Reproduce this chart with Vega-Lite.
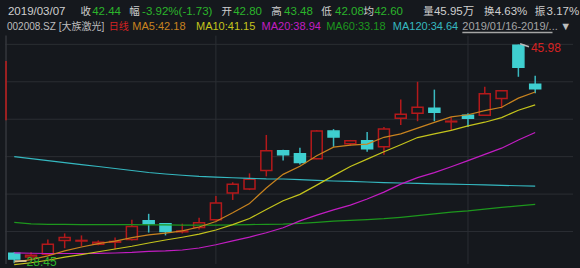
{
  "$schema": "https://vega.github.io/schema/vega-lite/v6.json",
  "width": 580,
  "height": 268,
  "padding": 0,
  "autosize": {"type": "fit", "contains": "padding"},
  "background": "#15181d",
  "config": {"view": {"stroke": null}, "font": "Liberation Sans, Noto Sans CJK SC"},
  "datasets": {
    "k": [
      {"i": 0, "d": "2019-01-16", "o": 29.27, "h": 29.35, "l": 28.45, "c": 28.79, "ma5": 28.55, "ma10": 28.35, "ma20": 29.29, "ma60": 31.74, "ma120": 37.00},
      {"i": 1, "d": "2019-01-17", "o": 28.95, "h": 29.35, "l": 28.70, "c": 29.10, "ma5": 28.75, "ma10": 28.50, "ma20": 29.26, "ma60": 31.62, "ma120": 36.84},
      {"i": 2, "d": "2019-01-18", "o": 29.19, "h": 30.37, "l": 29.11, "c": 29.98, "ma5": 29.05, "ma10": 28.70, "ma20": 29.24, "ma60": 31.58, "ma120": 36.68},
      {"i": 3, "d": "2019-01-21", "o": 30.29, "h": 30.85, "l": 29.66, "c": 30.53, "ma5": 29.45, "ma10": 28.95, "ma20": 29.24, "ma60": 31.57, "ma120": 36.52},
      {"i": 4, "d": "2019-01-22", "o": 30.24, "h": 30.69, "l": 29.82, "c": 30.29, "ma5": 29.76, "ma10": 29.15, "ma20": 29.24, "ma60": 31.56, "ma120": 36.36},
      {"i": 5, "d": "2019-01-23", "o": 29.98, "h": 30.29, "l": 29.90, "c": 30.14, "ma5": 30.03, "ma10": 29.38, "ma20": 29.25, "ma60": 31.56, "ma120": 36.21},
      {"i": 6, "d": "2019-01-24", "o": 30.15, "h": 30.53, "l": 29.58, "c": 30.21, "ma5": 30.23, "ma10": 29.60, "ma20": 29.28, "ma60": 31.55, "ma120": 36.05},
      {"i": 7, "d": "2019-01-25", "o": 30.37, "h": 31.95, "l": 30.29, "c": 31.40, "ma5": 30.51, "ma10": 29.82, "ma20": 29.33, "ma60": 31.55, "ma120": 35.89},
      {"i": 8, "d": "2019-01-28", "o": 31.87, "h": 32.42, "l": 30.92, "c": 31.63, "ma5": 30.73, "ma10": 30.08, "ma20": 29.41, "ma60": 31.54, "ma120": 35.73},
      {"i": 9, "d": "2019-01-29", "o": 31.63, "h": 31.66, "l": 30.69, "c": 31.00, "ma5": 30.88, "ma10": 30.32, "ma20": 29.45, "ma60": 31.53, "ma120": 35.61},
      {"i": 10, "d": "2019-01-30", "o": 30.98, "h": 31.63, "l": 30.85, "c": 31.04, "ma5": 31.06, "ma10": 30.54, "ma20": 29.52, "ma60": 31.52, "ma120": 35.51},
      {"i": 11, "d": "2019-01-31", "o": 31.32, "h": 32.11, "l": 31.16, "c": 31.71, "ma5": 31.36, "ma10": 30.79, "ma20": 29.68, "ma60": 31.52, "ma120": 35.42},
      {"i": 12, "d": "2019-02-01", "o": 31.95, "h": 33.85, "l": 31.87, "c": 33.29, "ma5": 31.80, "ma10": 31.12, "ma20": 29.94, "ma60": 31.52, "ma120": 35.36},
      {"i": 13, "d": "2019-02-11", "o": 34.08, "h": 34.95, "l": 33.53, "c": 34.79, "ma5": 32.50, "ma10": 31.55, "ma20": 30.25, "ma60": 31.54, "ma120": 35.31},
      {"i": 14, "d": "2019-02-12", "o": 34.40, "h": 35.66, "l": 34.32, "c": 35.19, "ma5": 33.25, "ma10": 32.04, "ma20": 30.55, "ma60": 31.56, "ma120": 35.26},
      {"i": 15, "d": "2019-02-13", "o": 35.90, "h": 38.74, "l": 35.42, "c": 37.48, "ma5": 34.49, "ma10": 32.77, "ma20": 30.90, "ma60": 31.58, "ma120": 35.22},
      {"i": 16, "d": "2019-02-14", "o": 37.48, "h": 37.55, "l": 36.69, "c": 37.16, "ma5": 35.58, "ma10": 33.47, "ma20": 31.30, "ma60": 31.60, "ma120": 35.21},
      {"i": 17, "d": "2019-02-15", "o": 37.24, "h": 37.71, "l": 36.37, "c": 36.53, "ma5": 36.23, "ma10": 33.98, "ma20": 31.85, "ma60": 31.66, "ma120": 35.16},
      {"i": 18, "d": "2019-02-18", "o": 36.84, "h": 39.13, "l": 36.80, "c": 39.05, "ma5": 37.08, "ma10": 34.72, "ma20": 32.32, "ma60": 31.74, "ma120": 35.10},
      {"i": 19, "d": "2019-02-19", "o": 39.05, "h": 39.21, "l": 37.79, "c": 38.58, "ma5": 37.76, "ma10": 35.48, "ma20": 32.73, "ma60": 31.83, "ma120": 35.05},
      {"i": 20, "d": "2019-02-20", "o": 38.03, "h": 38.34, "l": 37.87, "c": 38.27, "ma5": 37.92, "ma10": 36.21, "ma20": 33.12, "ma60": 31.89, "ma120": 35.02},
      {"i": 21, "d": "2019-02-21", "o": 38.27, "h": 38.98, "l": 37.40, "c": 37.63, "ma5": 38.01, "ma10": 36.80, "ma20": 33.61, "ma60": 31.95, "ma120": 34.97},
      {"i": 22, "d": "2019-02-22", "o": 37.79, "h": 39.37, "l": 37.16, "c": 39.21, "ma5": 38.55, "ma10": 37.39, "ma20": 34.16, "ma60": 32.03, "ma120": 34.92},
      {"i": 23, "d": "2019-02-25", "o": 40.08, "h": 41.58, "l": 39.53, "c": 40.40, "ma5": 38.82, "ma10": 37.95, "ma20": 34.80, "ma60": 32.14, "ma120": 34.89},
      {"i": 24, "d": "2019-02-26", "o": 40.48, "h": 43.00, "l": 39.84, "c": 40.95, "ma5": 39.29, "ma10": 38.53, "ma20": 35.32, "ma60": 32.27, "ma120": 34.86},
      {"i": 25, "d": "2019-02-27", "o": 40.87, "h": 42.37, "l": 39.84, "c": 40.55, "ma5": 39.75, "ma10": 38.83, "ma20": 35.72, "ma60": 32.41, "ma120": 34.82},
      {"i": 26, "d": "2019-02-28", "o": 39.79, "h": 40.16, "l": 39.13, "c": 39.84, "ma5": 40.19, "ma10": 39.10, "ma20": 36.19, "ma60": 32.55, "ma120": 34.80},
      {"i": 27, "d": "2019-03-01", "o": 40.32, "h": 40.48, "l": 39.37, "c": 40.08, "ma5": 40.36, "ma10": 39.46, "ma20": 36.68, "ma60": 32.66, "ma120": 34.77},
      {"i": 28, "d": "2019-03-04", "o": 40.32, "h": 42.61, "l": 40.30, "c": 42.05, "ma5": 40.69, "ma10": 39.76, "ma20": 37.18, "ma60": 32.80, "ma120": 34.74},
      {"i": 29, "d": "2019-03-05", "o": 41.66, "h": 42.29, "l": 40.87, "c": 42.29, "ma5": 40.96, "ma10": 40.13, "ma20": 37.68, "ma60": 32.93, "ma120": 34.70},
      {"i": 30, "d": "2019-03-06", "o": 45.92, "h": 45.98, "l": 43.40, "c": 44.17, "ma5": 41.69, "ma10": 40.72, "ma20": 38.33, "ma60": 33.06, "ma120": 34.67},
      {"i": 31, "d": "2019-03-07", "o": 42.80, "h": 43.48, "l": 42.08, "c": 42.44, "ma5": 42.18, "ma10": 41.15, "ma20": 38.94, "ma60": 33.18, "ma120": 34.64}
    ],
    "hgrid": [{"p": 31}, {"p": 34}, {"p": 37}, {"p": 40}, {"p": 43}, {"p": 46}],
    "vgrid": [{"d": "2019-02-01", "i": 12}, {"d": "2019-03-01", "i": 27}],
    "hdr": [
      {"n": 1, "x": -0.375, "t": "2019/03/07", "k": "lbl"},
      {"n": 11, "x": 3.937, "t": "收", "k": "lbl"},
      {"n": 1, "x": 4.637, "t": "42.44", "k": "val"},
      {"n": 11, "x": 6.851, "t": "幅", "k": "lbl"},
      {"n": 1, "x": 7.609, "t": "-3.92%(-1.73)", "k": "val"},
      {"n": 11, "x": 12.329, "t": "开", "k": "lbl"},
      {"n": 1, "x": 13.028, "t": "42.80", "k": "val"},
      {"n": 11, "x": 15.301, "t": "高", "k": "lbl"},
      {"n": 1, "x": 16.058, "t": "43.48", "k": "val"},
      {"n": 11, "x": 18.273, "t": "低", "k": "lbl"},
      {"n": 1, "x": 19.089, "t": "42.08", "k": "val"},
      {"n": 11, "x": 20.78, "t": "均", "k": "lbl"},
      {"n": 1, "x": 21.42, "t": "42.60", "k": "val"},
      {"n": 11, "x": 24.334, "t": "量", "k": "lbl"},
      {"n": 1, "x": 24.975, "t": "45.95万", "k": "lbl"},
      {"n": 11, "x": 27.947, "t": "换", "k": "lbl"},
      {"n": 1, "x": 28.588, "t": "4.63%", "k": "lbl"},
      {"n": 11, "x": 30.977, "t": "振", "k": "lbl"},
      {"n": 1, "x": 31.677, "t": "3.17%", "k": "lbl"},
      {"n": 22, "x": -0.433, "t": "002008.SZ [大族激光]", "k": "gray"},
      {"n": 22, "x": 5.63, "t": "日线", "k": "red"},
      {"n": 2, "x": 7.026, "t": "MA5:42.18", "k": "ma5"},
      {"n": 2, "x": 10.814, "t": "MA10:41.15", "k": "ma10"},
      {"n": 2, "x": 14.718, "t": "MA20:38.94", "k": "ma20"},
      {"n": 2, "x": 18.564, "t": "MA60:33.18", "k": "ma60"},
      {"n": 2, "x": 22.527, "t": "MA120:34.64", "k": "ma120"},
      {"n": 2, "x": 26.665, "t": "2019/01/16-2019/...", "k": "dim"},
      {"n": 2, "x": 32.492, "t": "▼", "k": "gray"}
    ],
    "notes": [
      {"t": "45.98", "x": 30.744, "p": 45.685, "k": "red", "b": "middle"},
      {"t": "28.45", "x": 0.732, "p": 28.58, "k": "val", "b": "top"}
    ],
    "segs": [
      {"x": -0.49, "x2": -0.49, "y": 28.4, "y2": 46.7, "k": "border"},
      {"x": -0.49, "x2": -0.49, "y": 44.66, "y2": 39.92, "k": "redm"},
      {"x": 26.665, "x2": 32.03, "y": 46.948, "y2": 46.948, "k": "dim"},
      {"x": 30.10, "x2": 30.63, "y": 46.04, "y2": 45.80, "k": "ptr"},
      {"x": 0.033, "x2": 0.732, "y": 28.636, "y2": 28.636, "k": "low"}
    ]
  },
  "layer": [
    {
      "data": {"name": "hgrid"},
      "mark": {"type": "rule", "color": "#2b2e33", "strokeWidth": 1},
      "encoding": {
        "y": {"field": "p", "type": "quantitative", "scale": {"domain": [28.399, 49.552], "nice": false, "zero": false}, "axis": null},
        "x": {"datum": -0.55, "scale": {"domain": [-0.55, 33.25], "nice": false, "zero": false}, "axis": null},
        "x2": {"datum": 33.25}
      }
    },
    {
      "data": {"name": "vgrid"},
      "mark": {"type": "rule", "color": "#2b2e33", "strokeWidth": 1},
      "encoding": {
        "x": {"field": "i", "type": "quantitative", "scale": {"domain": [-0.55, 33.25], "nice": false, "zero": false}, "axis": null},
        "y": {"datum": 28.4, "scale": {"domain": [28.399, 49.552], "nice": false, "zero": false}, "axis": null},
        "y2": {"datum": 46.7}
      }
    },
    {
      "data": {"name": "k"},
      "mark": {"type": "rule", "strokeWidth": 1.5},
      "encoding": {
        "x": {"field": "i", "type": "quantitative", "scale": {"domain": [-0.55, 33.25], "nice": false, "zero": false}, "axis": null},
        "y": {"field": "l", "type": "quantitative", "scale": {"domain": [28.399, 49.552], "nice": false, "zero": false}, "axis": null},
        "y2": {"field": "h"},
        "stroke": {"condition": {"test": "datum.c >= datum.o", "value": "#b3191b"}, "value": "#3ab9c0"}
      }
    },
    {
      "data": {"name": "k"},
      "mark": {"type": "bar", "width": 11, "strokeWidth": 1.5},
      "encoding": {
        "x": {"field": "i", "type": "quantitative", "scale": {"domain": [-0.55, 33.25], "nice": false, "zero": false}, "axis": null},
        "y": {"field": "o", "type": "quantitative", "scale": {"domain": [28.399, 49.552], "nice": false, "zero": false}, "axis": null},
        "y2": {"field": "c"},
        "fill": {"condition": {"test": "datum.c >= datum.o", "value": "#15181d"}, "value": "#3fcfd0"},
        "stroke": {"condition": {"test": "datum.c >= datum.o", "value": "#b3191b"}, "value": "#3fcfd0"}
      }
    },
    {
      "data": {"name": "k"},
      "transform": [{"fold": ["ma120", "ma60", "ma20", "ma10", "ma5"], "as": ["m", "v"]}],
      "mark": {"type": "line", "strokeWidth": 1.2},
      "encoding": {
        "x": {"field": "i", "type": "quantitative", "scale": {"domain": [-0.55, 33.25], "nice": false, "zero": false}, "axis": null},
        "y": {"field": "v", "type": "quantitative", "scale": {"domain": [28.399, 49.552], "nice": false, "zero": false}, "axis": null},
        "color": {"field": "m", "type": "nominal", "legend": null,
          "scale": {
            "domain": ["ma5", "ma10", "ma20", "ma60", "ma120", "lbl", "val", "red", "gray", "dim", "border", "redm", "ptr", "low"],
            "range": ["#c8831f", "#c4c41c", "#c21dc2", "#1d971d", "#35b8c0", "#cfcfcf", "#2bb52b", "#d62222", "#bdbdbd", "#a5a5a5", "#34373c", "#c01c1c", "#b8b8b8", "#e6d6a8"]
          }
        }
      }
    },
    {
      "data": {"name": "hdr"},
      "transform": [{"filter": "datum.n == 1"}],
      "mark": {"type": "text", "align": "left", "baseline": "middle", "fontSize": 11.5},
      "encoding": {
        "x": {"field": "x", "type": "quantitative", "scale": {"domain": [-0.55, 33.25], "nice": false, "zero": false}, "axis": null},
        "y": {"datum": 48.605, "scale": {"domain": [28.399, 49.552], "nice": false, "zero": false}, "axis": null},
        "text": {"field": "t"},
        "color": {"field": "k", "type": "nominal", "legend": null}
      }
    },
    {
      "data": {"name": "hdr"},
      "transform": [{"filter": "datum.n == 11"}],
      "mark": {"type": "text", "align": "left", "baseline": "middle", "fontSize": 10.5},
      "encoding": {
        "x": {"field": "x", "type": "quantitative", "scale": {"domain": [-0.55, 33.25], "nice": false, "zero": false}, "axis": null},
        "y": {"datum": 48.605, "scale": {"domain": [28.399, 49.552], "nice": false, "zero": false}, "axis": null},
        "text": {"field": "t"},
        "color": {"field": "k", "type": "nominal", "legend": null}
      }
    },
    {
      "data": {"name": "hdr"},
      "transform": [{"filter": "datum.n == 2"}],
      "mark": {"type": "text", "align": "left", "baseline": "middle", "fontSize": 11},
      "encoding": {
        "x": {"field": "x", "type": "quantitative", "scale": {"domain": [-0.55, 33.25], "nice": false, "zero": false}, "axis": null},
        "y": {"datum": 47.382, "scale": {"domain": [28.399, 49.552], "nice": false, "zero": false}, "axis": null},
        "text": {"field": "t"},
        "color": {"field": "k", "type": "nominal", "legend": null}
      }
    },
    {
      "data": {"name": "hdr"},
      "transform": [{"filter": "datum.n == 22"}],
      "mark": {"type": "text", "align": "left", "baseline": "middle", "fontSize": 10},
      "encoding": {
        "x": {"field": "x", "type": "quantitative", "scale": {"domain": [-0.55, 33.25], "nice": false, "zero": false}, "axis": null},
        "y": {"datum": 47.382, "scale": {"domain": [28.399, 49.552], "nice": false, "zero": false}, "axis": null},
        "text": {"field": "t"},
        "color": {"field": "k", "type": "nominal", "legend": null}
      }
    },
    {
      "data": {"name": "notes"},
      "mark": {"type": "text", "align": "left", "fontSize": 12},
      "encoding": {
        "x": {"field": "x", "type": "quantitative", "scale": {"domain": [-0.55, 33.25], "nice": false, "zero": false}, "axis": null},
        "y": {"field": "p", "type": "quantitative", "scale": {"domain": [28.399, 49.552], "nice": false, "zero": false}, "axis": null},
        "text": {"field": "t"},
        "baseline": {"field": "b"},
        "color": {"field": "k", "type": "nominal", "legend": null}
      }
    },
    {
      "data": {"name": "segs"},
      "mark": {"type": "rule", "strokeWidth": 1.5},
      "encoding": {
        "x": {"field": "x", "type": "quantitative", "scale": {"domain": [-0.55, 33.25], "nice": false, "zero": false}, "axis": null},
        "x2": {"field": "x2"},
        "y": {"field": "y", "type": "quantitative", "scale": {"domain": [28.399, 49.552], "nice": false, "zero": false}, "axis": null},
        "y2": {"field": "y2"},
        "color": {"field": "k", "type": "nominal", "legend": null}
      }
    }
  ]
}
